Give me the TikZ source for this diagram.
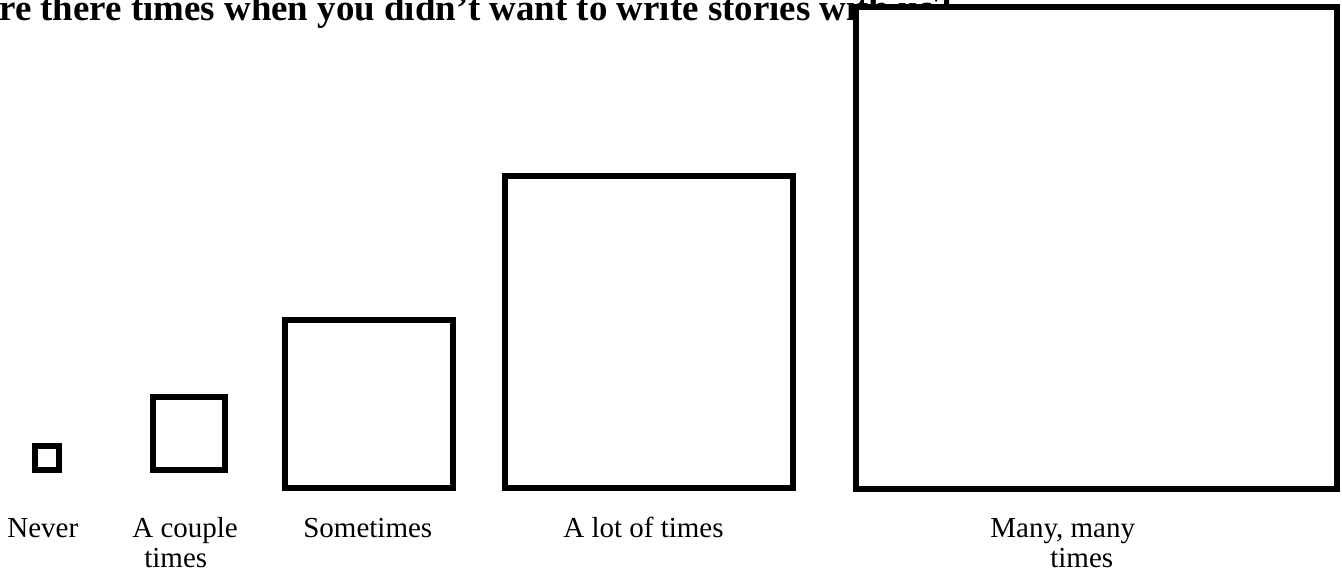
\documentclass[tikz,border=0pt]{standalone}
\usepackage{fontspec}
\setmainfont{Liberation Serif}
\usetikzlibrary{positioning}

\begin{document}
\begin{tikzpicture}[x=0.02cm, y=-0.02cm,
    tallyBox/.style={draw=black, line width=3.4pt, fill=white},
    answerLbl/.style={anchor=base west, inner sep=0pt, font=\fontsize{16.5}{19}\selectfont},
    titleLbl/.style={anchor=base west, inner sep=0pt, font=\fontsize{21}{24}\selectfont\bfseries}
]
    \useasboundingbox (0,0) rectangle (1342,580);

    % Question (top cut off)
    \node[titleLbl] (question) at (-1,21) {re there times when you didn't want to write stories with us?};

    % Answer boxes, growing
    \draw[tallyBox] (35,446)  rectangle (59,470);
    \draw[tallyBox] (153,397) rectangle (225,470);
    \draw[tallyBox] (285,320) rectangle (453,488);
    \draw[tallyBox] (505,176) rectangle (793,488);
    \draw[tallyBox] (856,7)   rectangle (1337,489);

    % Answer labels
    \node[answerLbl] (never)     at (7,538)    {Never};
    \node[answerLbl] (couple)    at (132,538)  {A couple};
    \node[answerLbl] (coupleB)   at (144,567)  {times};
    \node[answerLbl] (sometimes) at (303,538)  {Sometimes};
    \node[answerLbl] (lotof)     at (563,538)  {A lot of times};
    \node[answerLbl] (many)      at (990,538)  {Many, many};
    \node[answerLbl] (manyB)     at (1050,567) {times};
\end{tikzpicture}
\end{document}
